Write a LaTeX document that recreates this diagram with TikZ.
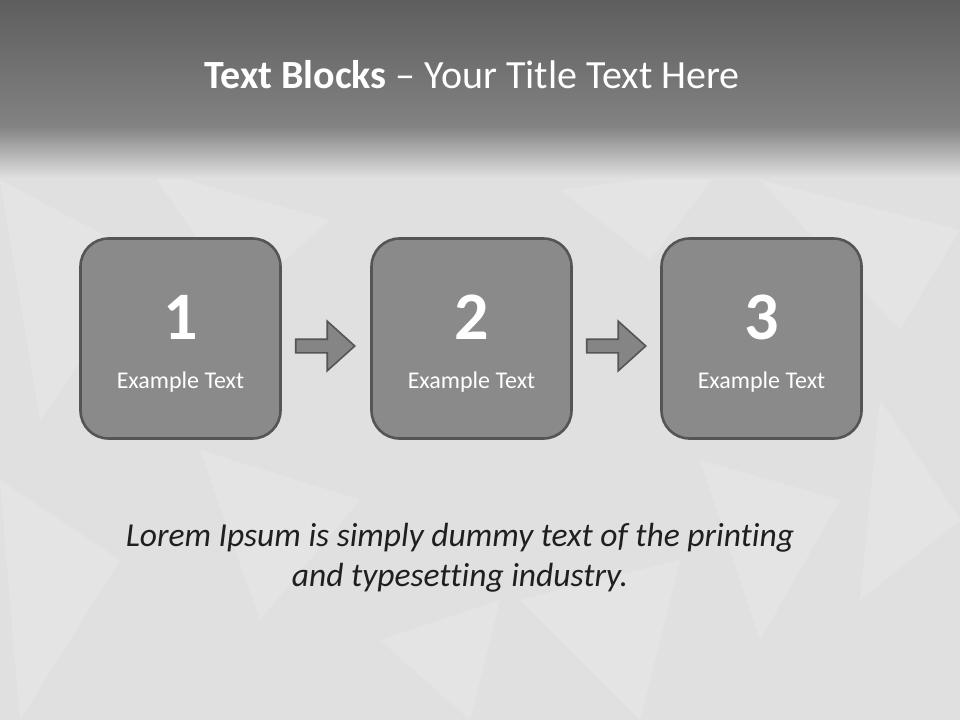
\documentclass[tikz,border=0pt]{standalone}
\usepackage{fontspec}
\setmainfont{Carlito}[Ligatures=NoCommon]
\usepackage{tikz}
\usetikzlibrary{positioning,shapes.arrows}
\definecolor{bandtop}{HTML}{5E5E5E}
\definecolor{bandlow}{HTML}{828282}
\definecolor{paper}{HTML}{E0E0E0}
\definecolor{blockfill}{HTML}{8A8A8A}
\definecolor{blockline}{HTML}{555555}
\definecolor{arrowfill}{HTML}{858585}
\tikzset{
  stepblock/.style={draw=blockline, line width=2.6pt, rounded corners=28pt, fill=blockfill, minimum width=200pt, minimum height=200pt, text=white},
  blockarrow/.style={single arrow, draw=blockline, line width=1.6pt, fill=arrowfill, inner sep=6pt, single arrow head extend=18pt, single arrow tip angle=84, minimum height=59pt},
  numtext/.style={text=white, font=\fontsize{68}{68}\selectfont\bfseries},
  subtext/.style={text=white, font=\fontsize{24}{28}\selectfont},
  facet/.style={fill=white, opacity=0.16}
}

\begin{document}
\begin{tikzpicture}[x=1pt, y=-1pt]
  % background and title band
  \fill[paper] (0,0) rectangle (960,720);
  % faint facets of the paper
  \foreach \ax/\ay/\bx/\by/\cx/\cy in {0/180/150/260/40/420, 150/170/330/220/240/300,
      560/190/720/170/650/260, 760/180/960/230/900/330, 880/400/960/520/860/600,
      0/480/120/560/20/720, 200/450/360/500/260/620, 520/600/680/560/640/720,
      700/460/840/500/760/640, 380/640/500/600/470/720}
    \fill[facet] (\ax,\ay) -- (\bx,\by) -- (\cx,\cy) -- cycle;
  \shade[top color=bandtop, bottom color=bandlow] (0,0) rectangle (960,126);
  \shade[top color=bandlow, bottom color=paper] (0,126) rectangle (960,178);
  \node[text=white, font=\fontsize{40}{44}\selectfont] (title) at (472,75)
    {\textbf{Text Blocks} -- Your Title Text Here};

  % the three blocks
  \node[stepblock] (b1) at (180.5,338.5) {};
  \node[stepblock] (b2) at (471.5,338.5) {};
  \node[stepblock] (b3) at (761.5,338.5) {};
  \node[numtext] (n1) at (180.5,317) {1};
  \node[numtext] (n2) at (471.5,317) {2};
  \node[numtext] (n3) at (761.5,317) {3};
  \node[subtext] (t1) at (180.5,382) {Example Text};
  \node[subtext] (t2) at (471.5,382) {Example Text};
  \node[subtext] (t3) at (761.5,382) {Example Text};

  % arrows between blocks
  \node[blockarrow] (a1) at (321.5,346) {};
  \node[blockarrow] (a2) at (612.5,346) {};

  \node[align=center, font=\fontsize{33.5}{40}\selectfont\itshape, text=black!88] (lorem) at (460,558)
    {Lorem Ipsum is simply dummy text of the printing\\and typesetting industry.};
\end{tikzpicture}
\end{document}
